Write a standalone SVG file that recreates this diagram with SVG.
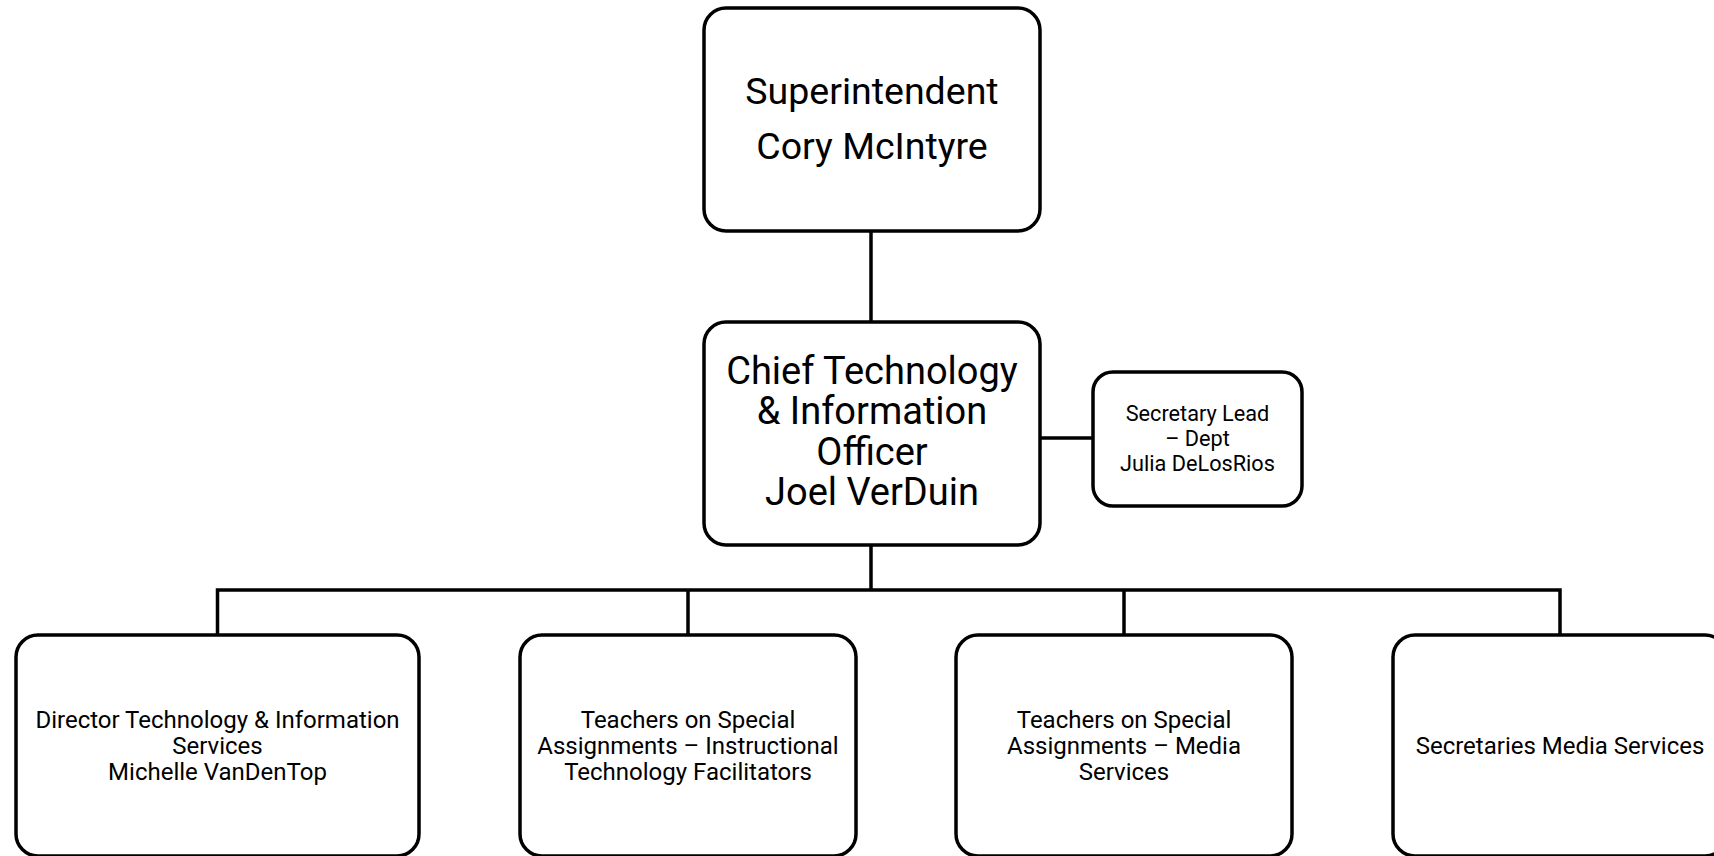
<svg xmlns="http://www.w3.org/2000/svg" width="1714" height="856" viewBox="0 0 1714 856">
<style>
.box{fill:#fff;stroke:#000;stroke-width:3.5}
.ln{fill:none;stroke:#000;stroke-width:3.5}
text{font-family:Roboto,"Liberation Sans",sans-serif;fill:#000;text-anchor:middle}
.big{font-size:37.5px}
.big2{font-size:38px}
.sm{font-size:21.7px}
.md{font-size:24px}
</style>
<rect width="1714" height="856" fill="#fff"/>
<g id="connectors">
<line class="ln" x1="871" y1="231" x2="871" y2="322"/>
<line class="ln" x1="1040" y1="438" x2="1093" y2="438"/>
<polyline class="ln" points="871,545 871,590"/>
<polyline class="ln" points="217.5,635 217.5,590 1560,590 1560,635"/>
<line class="ln" x1="688" y1="590" x2="688" y2="635"/>
<line class="ln" x1="1124" y1="590" x2="1124" y2="635"/>
</g>
<g id="superintendent">
<rect class="box" x="704" y="8" width="336" height="223" rx="22"/>
<text class="big" x="872" y="104">Superintendent</text>
<text class="big" x="872" y="159">Cory McIntyre</text>
</g>
<g id="cto">
<rect class="box" x="704" y="322" width="336" height="223" rx="22"/>
<text class="big2" x="872" y="383.5">Chief Technology</text>
<text class="big2" x="872" y="424">&amp; Information</text>
<text class="big2" x="872" y="464.5">Officer</text>
<text class="big2" x="872" y="505">Joel VerDuin</text>
</g>
<g id="secretary-lead">
<rect class="box" x="1093" y="372" width="209" height="134" rx="20"/>
<text class="sm" x="1197.5" y="421">Secretary Lead</text>
<text class="sm" x="1197.5" y="446">– Dept</text>
<text class="sm" x="1197.5" y="471">Julia DeLosRios</text>
</g>
<g id="director">
<rect class="box" x="16" y="635" width="403" height="221" rx="22"/>
<text class="md" x="217.5" y="728">Director Technology &amp; Information</text>
<text class="md" x="217.5" y="754">Services</text>
<text class="md" x="217.5" y="780">Michelle VanDenTop</text>
</g>
<g id="tosa-itf">
<rect class="box" x="520" y="635" width="336" height="221" rx="22"/>
<text class="md" x="688" y="728">Teachers on Special</text>
<text class="md" x="688" y="754">Assignments – Instructional</text>
<text class="md" x="688" y="780">Technology Facilitators</text>
</g>
<g id="tosa-media">
<rect class="box" x="956" y="635" width="336" height="221" rx="22"/>
<text class="md" x="1124" y="728">Teachers on Special</text>
<text class="md" x="1124" y="754">Assignments – Media</text>
<text class="md" x="1124" y="780">Services</text>
</g>
<g id="secretaries-media">
<rect class="box" x="1393" y="635" width="334" height="221" rx="22"/>
<text class="md" x="1560" y="754">Secretaries Media Services</text>
</g>
</svg>
